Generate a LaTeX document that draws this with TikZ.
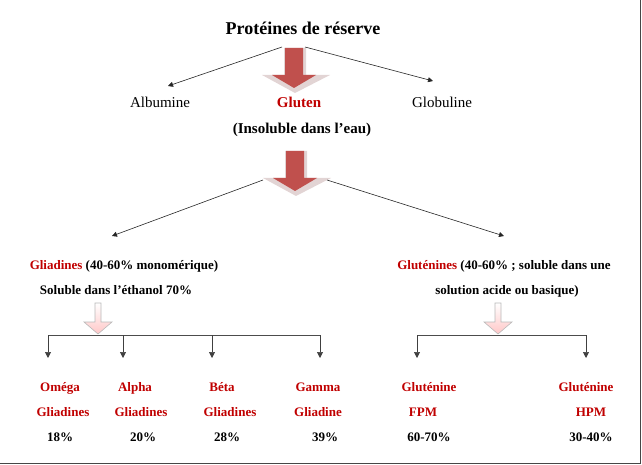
\documentclass[tikz,border=0pt]{standalone}
\usepackage{fontspec}
\setmainfont{Liberation Serif}
\usetikzlibrary{arrows.meta}
\definecolor{txtred}{RGB}{192,0,0}
\definecolor{arrred}{RGB}{192,80,77}
\definecolor{bevelc}{RGB}{226,212,212}
\definecolor{framec}{RGB}{70,70,70}
\begin{document}
\begin{tikzpicture}[x=1pt,y=-1pt,
  lbl/.style={font=\fontsize{13}{15}\selectfont\bfseries, inner sep=0pt, anchor=base},
  bigtxt/.style={font=\fontsize{15}{18}\selectfont, inner sep=0pt, anchor=base},
  redtxt/.style={text=txtred},
  conn/.style={draw=black!85, line width=0.6pt, -{Triangle[length=5pt,width=5pt]}},
  vconn/.style={draw=black!75, line width=0.7pt, -{Triangle[length=6pt,width=6pt]}},
  barline/.style={draw=black!70, line width=0.7pt},
  bigarrow/.pic={
    \fill[bevelc] (-10,0) -- (12,0) -- (12,27) -- (36,27) -- (1,45) -- (-32,27) -- (-10,27) -- cycle;
    \fill[arrred] (-9,0) -- (9,0) -- (9,27) -- (22,27) -- (0,40) -- (-22,27) -- (-9,27) -- cycle;
  },
  smallarrow/.pic={
    \path[draw=gray!55, top color=white, bottom color=red!22, line width=0.6pt]
      (-3,0) -- (3,0) -- (3,19) -- (14,19) -- (0,31) -- (-14,19) -- (-3,19) -- cycle;
  }
]
\useasboundingbox (0,0) rectangle (642,465);

% top level
\node[bigtxt, font=\fontsize{18}{21}\selectfont\bfseries] (title) at (303,35) {Protéines de réserve};
\pic at (294,48) {bigarrow};
\node[bigtxt] (alb) at (160,108) {Albumine};
\node[bigtxt, redtxt, font=\fontsize{15}{18}\selectfont\bfseries] (glu) at (299,108) {Gluten};
\node[bigtxt] (glob) at (442,108) {Globuline};
\node[bigtxt, font=\fontsize{15}{18}\selectfont\bfseries] (insol) at (302,134) {(Insoluble dans l’eau)};

\coordinate (s1l) at (282,47);
\coordinate (s1r) at (305,47);
\coordinate (e1l) at (168,86);
\coordinate (e1r) at (433,81);
\draw[conn] (s1l) -- (e1l);
\draw[conn] (s1r) -- (e1r);

% second level
\pic at (295,151) {bigarrow};
\coordinate (s2l) at (263,180);
\coordinate (s2r) at (327,180);
\coordinate (e2l) at (112,236);
\coordinate (e2r) at (504,236);
\draw[conn] (s2l) -- (e2l);
\draw[conn] (s2r) -- (e2r);

\node[lbl] (gliad) at (124,269.5) {\textcolor{txtred}{Gliadines} (40-60\% monomérique)};
\node[lbl] (gliad2) at (116,294.5) {Soluble dans l’éthanol 70\%};
\node[lbl] (glutn) at (504,269.5) {\textcolor{txtred}{Gluténines} (40-60\% ; soluble dans une};
\node[lbl] (glutn2) at (507,294.5) {solution acide ou basique)};

\pic at (98,303) {smallarrow};
\pic at (498,303) {smallarrow};

% gliadine branch
\coordinate (b1) at (48,335);
\coordinate (b2) at (123,335);
\coordinate (b3) at (212,335);
\coordinate (b4) at (320,335);
\coordinate (t1) at (48,358);
\coordinate (t2) at (123,358);
\coordinate (t3) at (212,358);
\coordinate (t4) at (320,358);
\draw[barline] (b1) -- (b4);
\draw[vconn] (b1) -- (t1);
\draw[vconn] (b2) -- (t2);
\draw[vconn] (b3) -- (t3);
\draw[vconn] (b4) -- (t4);

% glutenine branch
\coordinate (b5) at (417,335);
\coordinate (b6) at (586,335);
\coordinate (t5) at (417,358);
\coordinate (t6) at (586,358);
\draw[barline] (b5) -- (b6);
\draw[vconn] (b5) -- (t5);
\draw[vconn] (b6) -- (t6);

% leaves
\node[lbl, redtxt] (om1) at (60,391.5) {Oméga};
\node[lbl, redtxt] (om2) at (63,416.5) {Gliadines};
\node[lbl] (om3) at (60,441.5) {18\%};
\node[lbl, redtxt] (al1) at (135,391.5) {Alpha};
\node[lbl, redtxt] (al2) at (141,416.5) {Gliadines};
\node[lbl] (al3) at (143,441.5) {20\%};
\node[lbl, redtxt] (be1) at (222,391.5) {Béta};
\node[lbl, redtxt] (be2) at (230,416.5) {Gliadines};
\node[lbl] (be3) at (227,441.5) {28\%};
\node[lbl, redtxt] (ga1) at (318,391.5) {Gamma};
\node[lbl, redtxt] (ga2) at (318,416.5) {Gliadine};
\node[lbl] (ga3) at (325,441.5) {39\%};
\node[lbl, redtxt] (fp1) at (429,391.5) {Gluténine};
\node[lbl, redtxt] (fp2) at (423,416.5) {FPM};
\node[lbl] (fp3) at (429,441.5) {60-70\%};
\node[lbl, redtxt] (hp1) at (586,391.5) {Gluténine};
\node[lbl, redtxt] (hp2) at (591,416.5) {HPM};
\node[lbl] (hp3) at (591,441.5) {30-40\%};

% frame (right and bottom edges)
\draw[framec, line width=1.6pt] (0,463.5) -- (640.5,463.5) -- (640.5,0);
\end{tikzpicture}
\end{document}
